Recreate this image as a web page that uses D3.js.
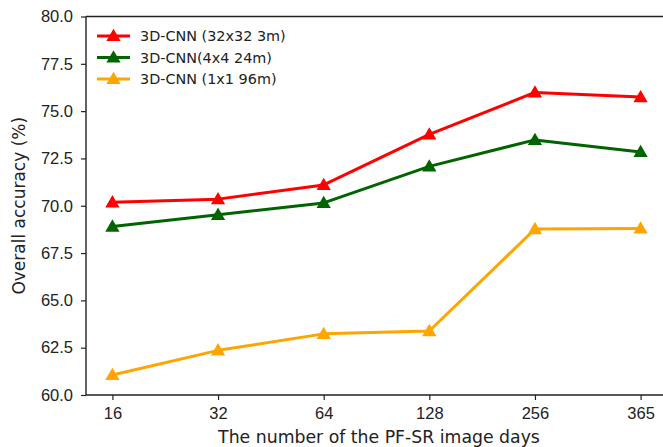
<!DOCTYPE html>
<html>
<head>
<meta charset="utf-8">
<script src="https://cdn.jsdelivr.net/npm/d3@7"></script>
<style>
html,body{margin:0;padding:0;background:#fff;overflow:hidden;}
svg{display:block;font-family:"DejaVu Sans",sans-serif;}
</style>
</head>
<body>
<svg id="chart" width="663" height="447"></svg>
<script>
const categories = ["16", "32", "64", "128", "256", "365"];
const yTicks = [60.0, 62.5, 65.0, 67.5, 70.0, 72.5, 75.0, 77.5, 80.0];
const seriesNames = ["3D-CNN (32x32 3m)", "3D-CNN(4x4 24m)", "3D-CNN (1x1 96m)"];
const seriesColors = ["#ff0000", "#006400", "#ffa500"];
const red32 = [70.18, 70.35, 71.10, 73.77, 75.99, 75.74];
const green4 = [68.90, 69.52, 70.15, 72.08, 73.48, 72.84];
const orange1 = [61.06, 62.36, 63.23, 63.38, 68.77, 68.80];
const seriesValues = [red32, green4, orange1];

const svg = d3.select("#chart");
const margin = {left: 86, top: 16.5, right: 667, bottom: 395};

// matplotlib default 5% margins: range covers -0.25..5.25 in index units
const idx = d3.scaleLinear().domain([-0.25, categories.length - 1 + 0.25]).range([margin.left, margin.right]);
const x = d3.scaleOrdinal().domain(categories).range(categories.map((c, i) => idx(i)));
const y = d3.scaleLinear().domain([60, 80]).range([margin.bottom, margin.top]);

// axes
const xAxis = d3.axisBottom(x).tickSizeOuter(0).tickSizeInner(5).tickPadding(7);
const gx = svg.append("g").attr("transform", `translate(0,${margin.bottom})`).call(xAxis);
gx.select(".domain").remove();
gx.selectAll(".tick line").attr("stroke", "#222").attr("stroke-width", 1.2);
gx.selectAll(".tick text").attr("font-size", 16.5).attr("fill", "#222").attr("dy", "0.75em");

const yAxis = d3.axisLeft(y).tickValues(yTicks).tickFormat(d3.format(".1f"))
  .tickSizeOuter(0).tickSizeInner(5).tickPadding(8);
const gy = svg.append("g").attr("transform", `translate(${margin.left},0)`).call(yAxis);
gy.select(".domain").remove();
gy.selectAll(".tick line").attr("stroke", "#222").attr("stroke-width", 1.2);
gy.selectAll(".tick text").attr("font-size", 16.5).attr("fill", "#222");

// spines
const sp = svg.append("g").attr("fill", "none").attr("stroke", "#222").attr("stroke-width", 1.4);
sp.append("line").attr("x1", margin.left).attr("x2", margin.left).attr("y1", margin.top).attr("y2", margin.bottom);
sp.append("line").attr("x1", margin.left).attr("x2", margin.right).attr("y1", margin.bottom).attr("y2", margin.bottom);
sp.append("line").attr("x1", margin.left).attr("x2", margin.right).attr("y1", margin.top).attr("y2", margin.top);
sp.append("line").attr("x1", margin.right).attr("x2", margin.right).attr("y1", margin.top).attr("y2", margin.bottom);

// labels
svg.append("text").attr("x", 379).attr("y", 443)
  .attr("text-anchor", "middle").attr("font-size", 17.3).attr("fill", "#222")
  .text("The number of the PF-SR image days");
svg.append("text").attr("transform", `translate(25,${(margin.top + margin.bottom) / 2}) rotate(-90)`)
  .attr("text-anchor", "middle").attr("font-size", 17).attr("fill", "#222")
  .text("Overall accuracy (%)");

// lines + markers
const tri = d3.symbol().type(d3.symbolTriangle).size(88);
const line = d3.line().x((d, i) => x(categories[i])).y(d => y(d));
seriesValues.forEach((vals, s) => {
  const g = svg.append("g");
  g.append("path").datum(vals).attr("d", line).attr("fill", "none")
    .attr("stroke", seriesColors[s]).attr("stroke-width", 3).attr("stroke-linejoin", "round");
  g.selectAll("path.m").data(vals).enter().append("path").attr("class", "m")
    .attr("d", tri)
    .attr("transform", (d, i) => `translate(${x(categories[i])},${y(d) + 1})`)
    .attr("fill", seriesColors[s]);
});

// legend
const leg = svg.append("g");
seriesNames.forEach((n, i) => {
  const yy = 36 + i * 21.5;
  leg.append("line").attr("x1", 97).attr("x2", 130).attr("y1", yy).attr("y2", yy)
    .attr("stroke", seriesColors[i]).attr("stroke-width", 3);
  leg.append("path").attr("d", tri).attr("transform", `translate(113.5,${yy + 1})`).attr("fill", seriesColors[i]);
  leg.append("text").attr("x", 140).attr("y", yy).attr("dy", "0.35em")
    .attr("font-size", 14.4).attr("fill", "#222").text(n);
});
</script>
</body>
</html>
